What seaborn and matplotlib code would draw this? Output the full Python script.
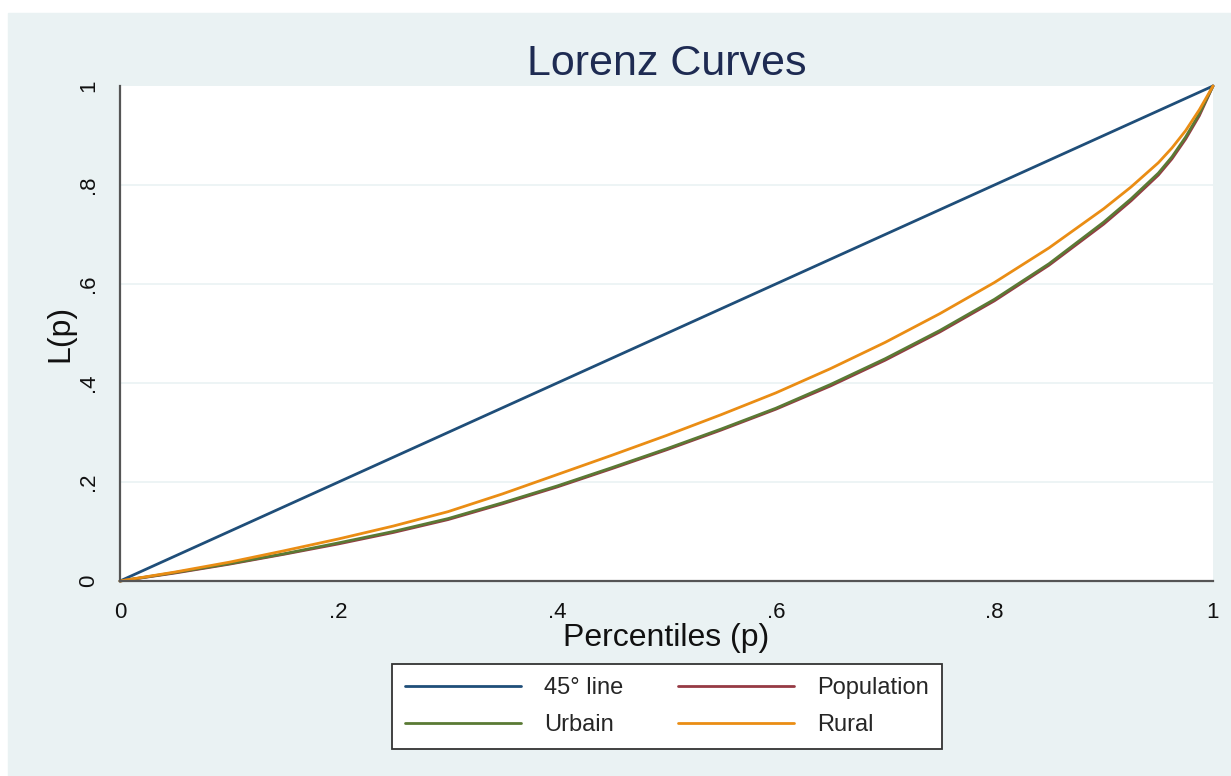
import numpy as np
import pandas as pd
import matplotlib
matplotlib.use("Agg")
import matplotlib.pyplot as plt
from matplotlib.patches import Rectangle
from matplotlib.lines import Line2D
import seaborn as sns

# values
p = [0, .05, .1, .15, .2, .25, .3, .35, .4, .45, .5, .55, .6, .65, .7, .75,
     .8, .85, .9, .925, .95, .9625, .975, .9875, 1]
population = [0, 0.016, 0.034, 0.054, 0.075, 0.098, 0.124, 0.156, 0.190, 0.227,
              0.265, 0.305, 0.347, 0.394, 0.446, 0.503, 0.566, 0.638, 0.721,
              0.768, 0.820, 0.853, 0.893, 0.940, 1]
urbain = [0, 0.017, 0.035, 0.055, 0.077, 0.100, 0.126, 0.158, 0.192, 0.229,
          0.267, 0.307, 0.349, 0.397, 0.449, 0.506, 0.569, 0.641, 0.725,
          0.772, 0.824, 0.857, 0.897, 0.944, 1]
rural = [0, 0.018, 0.038, 0.061, 0.085, 0.111, 0.140, 0.176, 0.215, 0.254,
         0.294, 0.336, 0.380, 0.429, 0.482, 0.540, 0.603, 0.673, 0.752,
         0.796, 0.845, 0.875, 0.910, 0.952, 1]
diag_p = [0, 1]
diag_l = [0, 1]

tick_vals = [0, .2, .4, .6, .8, 1]
tick_labels = ["0", ".2", ".4", ".6", ".8", "1"]

colors = {"45° line": "#1f4e79", "Population": "#963a44",
          "Urbain": "#5a7a34", "Rural": "#ea8d14"}

df = pd.concat([
    pd.DataFrame({"p": diag_p, "L": diag_l, "serie": "45° line"}),
    pd.DataFrame({"p": p, "L": population, "serie": "Population"}),
    pd.DataFrame({"p": p, "L": urbain, "serie": "Urbain"}),
    pd.DataFrame({"p": p, "L": rural, "serie": "Rural"}),
], ignore_index=True)

sns.set_style("white")
plt.rcParams["font.family"] = ["Liberation Sans", "DejaVu Sans"]

fig = plt.figure(figsize=(12.31, 7.76), dpi=100)
fig.patch.set_facecolor("white")
fig.add_artist(Rectangle((8 / 1231, 0), 1, (776 - 13) / 776,
                         transform=fig.transFigure, color="#eaf2f3", zorder=-5))
ax = fig.add_axes([120 / 1231, 195 / 776, 1093 / 1231, 495 / 776])
ax.set_facecolor("white")

sns.lineplot(data=df, x="p", y="L", hue="serie", palette=colors,
             hue_order=["45° line", "Population", "Urbain", "Rural"],
             linewidth=2.0, sort=False, estimator=None, ax=ax, legend=False)
for ln in ax.lines:
    ln.set_clip_on(False)

ax.set_xlim(0, 1)
ax.set_ylim(0, 1)
ax.set_xticks(tick_vals)
ax.set_xticklabels(tick_labels)
ax.set_yticks(tick_vals)
ax.set_yticklabels(tick_labels, rotation=90, va="center")
for y in tick_vals[1:-1]:
    ax.axhline(y, color="#eaf2f3", lw=1.2, zorder=0)

for s in ["top", "right"]:
    ax.spines[s].set_visible(False)
for s in ["left", "bottom"]:
    ax.spines[s].set_color("#555555")
    ax.spines[s].set_linewidth(1.6)
ax.tick_params(axis="both", direction="out", length=10, width=1.3,
               color="#555555", labelsize=16, labelcolor="#111111")
ax.tick_params(axis="x", pad=5)
ax.tick_params(axis="y", pad=5)

ax.set_xlabel("Percentiles (p)", fontsize=23, color="#111111", labelpad=0)
ax.set_ylabel("L(p)", fontsize=23, color="#111111", labelpad=2)
ax.set_title("Lorenz Curves", fontsize=31, color="#1e2b52", pad=8)

handles = [Line2D([], [], color=colors[k], lw=2.0)
           for k in ["45° line", "Urbain", "Population", "Rural"]]
leg = fig.legend(handles, ["45° line", "Urbain", "Population", "Rural"],
                 ncol=2, loc="center", bbox_to_anchor=(667 / 1231, 69.5 / 776),
                 fontsize=17, handlelength=4.9, handletextpad=1.0,
                 columnspacing=2.3, labelspacing=0.63, borderpad=0.54,
                 fancybox=False, framealpha=1, edgecolor="#333333")
leg.get_frame().set_linewidth(1.3)

fig.savefig("out.png", dpi=100, facecolor=fig.get_facecolor())
